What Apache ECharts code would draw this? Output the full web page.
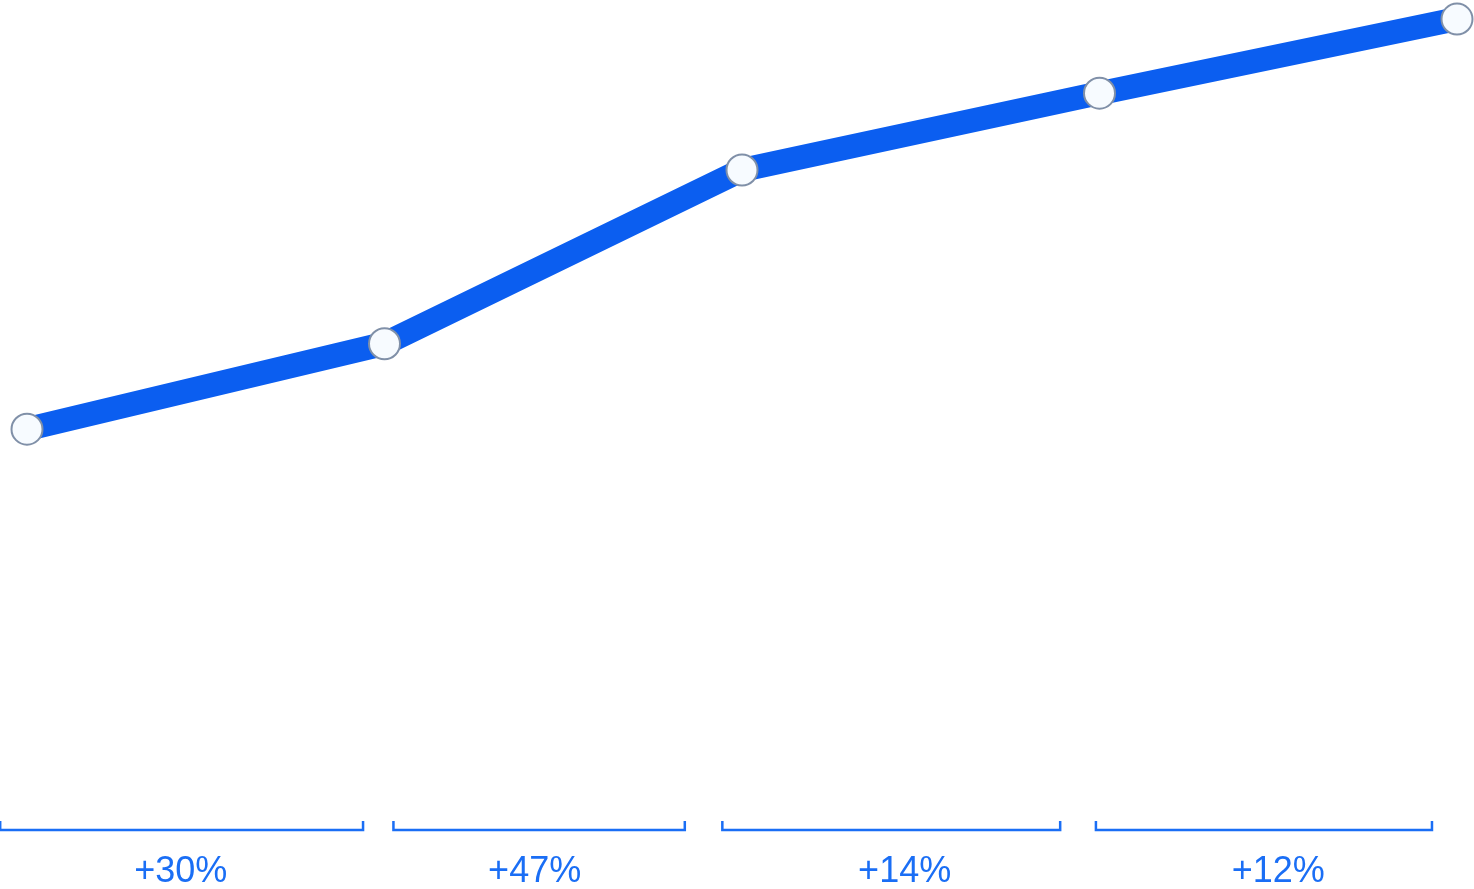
<!DOCTYPE html>
<html>
<head>
<meta charset="utf-8">
<style>html,body{margin:0;padding:0;background:#fff}#c{width:1474px;height:889px}</style>
<script src="https://cdn.jsdelivr.net/npm/echarts@6/dist/echarts.min.js"></script>
</head>
<body>
<div id="c"></div>
<script>
// Data
const periods = [0, 1, 2, 3, 4];
const values = [100, 130, 191, 218, 244];
const changeLabels = ['+30%', '+47%', '+14%', '+12%'];
const bracketStart = [-0.075, 1.025, 1.945, 2.99];
const bracketEnd = [0.94, 1.84, 2.89, 3.93];
const labelPos = [0.43, 1.42, 2.455, 3.5];

const chart = echarts.init(document.getElementById('c'));
const blue = '#1a6ef5';
const bracketData = changeLabels.map((t, i) => [bracketStart[i], bracketEnd[i], labelPos[i], t]);

chart.setOption({
  animation: false,
  grid: { left: 27, right: 17, top: 2, bottom: 175 },
  xAxis: { type: 'value', min: 0, max: 4, show: false },
  yAxis: { type: 'value', min: 0, max: 250, show: false },
  series: [
    {
      type: 'line',
      data: periods.map((p, i) => [p, values[i]]),
      lineStyle: { color: '#0b5ef0', width: 24 },
      symbol: 'circle',
      symbolSize: 31,
      itemStyle: { color: '#f7fbff', borderColor: '#8090a8', borderWidth: 2 },
      z: 3
    },
    {
      type: 'custom',
      clip: false,
      data: bracketData,
      renderItem: function (params, api) {
        const x0 = api.coord([api.value(0), 0])[0];
        const x1 = api.coord([api.value(1), 0])[0];
        const xl = api.coord([api.value(2), 0])[0];
        const base = api.coord([0, 0])[1];
        const yb = base + 116;
        return {
          type: 'group',
          children: [
            {
              type: 'polyline',
              shape: { points: [[x0, yb - 9], [x0, yb], [x1, yb], [x1, yb - 9]] },
              style: { stroke: blue, lineWidth: 2.5, fill: null }
            },
            {
              type: 'text',
              x: xl, y: yb + 42,
              style: {
                text: bracketData[params.dataIndex][3],
                fill: blue,
                font: '36px "Liberation Sans", Arial, sans-serif',
                align: 'center',
                verticalAlign: 'middle'
              }
            }
          ]
        };
      }
    }
  ]
});
</script>
</body>
</html>
